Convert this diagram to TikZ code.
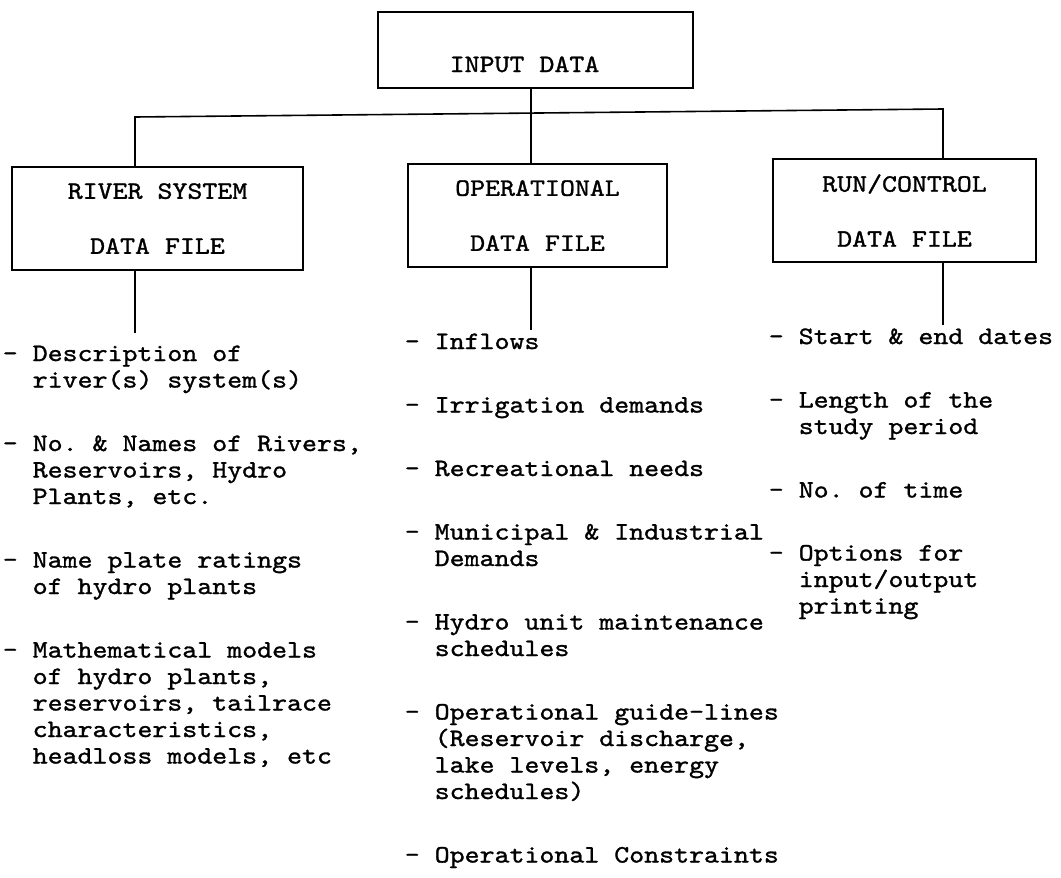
\documentclass[tikz,border=0pt]{standalone}
\usepackage{fontspec}
\setmonofont{lmmono10-regular.otf}[FakeStretch=1.14, FakeBold=1.2]
\begin{document}
\begin{tikzpicture}[x=1pt,y=-1pt,
  line width=1.6pt,
  box/.style={draw, line width=2pt, inner sep=0pt, font=\ttfamily\fontsize{25}{55}\selectfont, align=center},
  item/.style={font=\ttfamily\fontsize{25}{26.5}\selectfont, align=left, inner sep=0pt, anchor=base west},
]
\useasboundingbox (0,0) rectangle (1061,878);
% boxes
\node[box, minimum width=315pt, minimum height=76pt, text height=44pt, text depth=0pt] (in) at (535.5,50) {INPUT DATA\hspace{22pt}};
\node[box, minimum width=291pt, minimum height=103pt] (rs) at (157.5,218.5) {RIVER SYSTEM\\DATA FILE};
\node[box, minimum width=259pt, minimum height=103pt] (op) at (537.5,215.5) {OPERATIONAL\\DATA FILE};
\node[box, minimum width=263pt, minimum height=103pt] (rc) at (904.5,210.5) {RUN/CONTROL\\DATA FILE};
% connectors
\coordinate (bl) at (135,117);
\coordinate (bm) at (531,115);
\coordinate (br) at (943,109);
\draw (rs.north -| bl) -- (bl) -- (br) -- (rc.north -| br);
\draw (in.south -| bm) -- (op.north -| bm);
\coordinate (el) at (135,333);
\coordinate (em) at (531,330);
\coordinate (er) at (943,325);
\draw (rs.south -| el) -- (el);
\draw (op.south -| em) -- (em);
\draw (rc.south -| er) -- (er);
% left column (positions give the baseline of each item's last line)
\node[item] (l1) at (2,387.5) {- Description of\\\hphantom{- }river(s) system(s)};
\node[item] (l2) at (2,504) {- No. \& Names of Rivers,\\\hphantom{- }Reservoirs, Hydro\\\hphantom{- }Plants, etc.};
\node[item] (l3) at (2,594) {- Name plate ratings\\\hphantom{- }of hydro plants};
\node[item] (l4) at (2,763.5) {- Mathematical models\\\hphantom{- }of hydro plants,\\\hphantom{- }reservoirs, tailrace\\\hphantom{- }characteristics,\\\hphantom{- }headloss models, etc};
% middle column
\node[item] (m1) at (404,349) {- Inflows};
\node[item] (m2) at (404,412.5) {- Irrigation demands};
\node[item] (m3) at (404,476) {- Recreational needs};
\node[item] (m4) at (404,566) {- Municipal \& Industrial\\\hphantom{- }Demands};
\node[item] (m5) at (404,656) {- Hydro unit maintenance\\\hphantom{- }schedules};
\node[item] (m6) at (404,799) {- Operational guide-lines\\\hphantom{- }(Reservoir discharge,\\\hphantom{- }lake levels, energy\\\hphantom{- }schedules)};
\node[item] (m7) at (404,862.5) {- Operational Constraints};
% right column
\node[item] (r1) at (768,344) {- Start \& end dates};
\node[item] (r2) at (768,434) {- Length of the\\\hphantom{- }study period};
\node[item] (r3) at (768,497.5) {- No. of time};
\node[item] (r4) at (768,613.5) {- Options for\\\hphantom{- }input/output\\\hphantom{- }printing};
\end{tikzpicture}
\end{document}
